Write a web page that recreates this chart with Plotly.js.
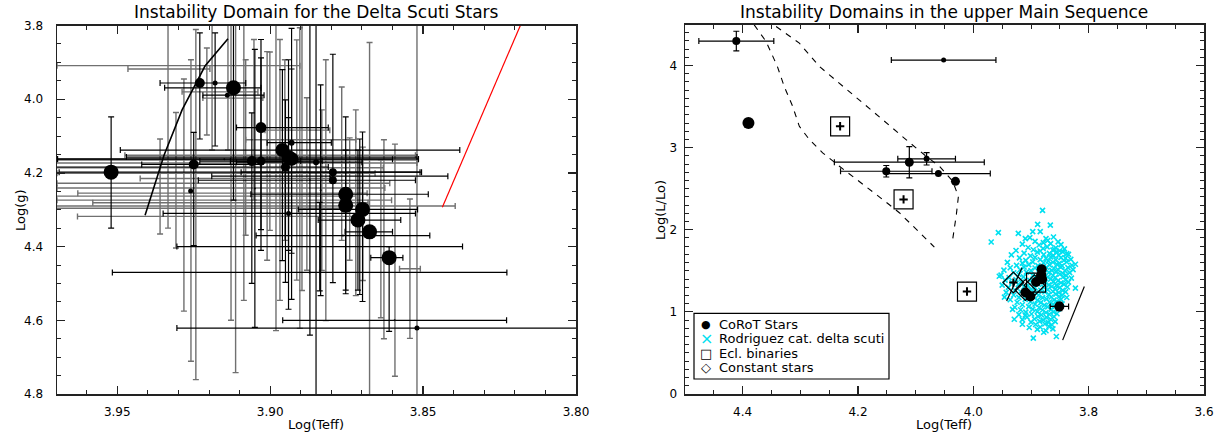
<!DOCTYPE html>
<html><head><meta charset="utf-8">
<script src="https://cdn.plot.ly/plotly-3.0.1.min.js"></script>
<style>html,body{margin:0;padding:0;background:#fff;} #chart{width:1222px;height:436px;}</style>
</head><body><div id="chart"></div>
<script>
const _ = NaN;
const F = 'DejaVu Sans';

// ---------- Left panel: Delta Scuti stars (black catalogue, dots) ----------
const dsX   = [3.952,3.923,3.918,3.912,3.914,3.903,3.925,3.926,3.906,3.903,3.896,3.894,3.893,3.895,3.893,3.885,3.8795,3.8795,3.8753,3.8753,3.8698,3.8713,3.8675,3.8611,3.852,3.894,3.8838,3.8871,3.8593,3.8762,3.8805,3.8707,3.905,3.887,3.8835,3.915];
const dsY   = [4.198,3.956,3.956,3.969,3.989,4.077,4.177,4.249,4.168,4.168,4.138,4.157,4.162,4.184,4.118,4.171,4.198,4.22,4.258,4.288,4.299,4.328,4.36,4.43,4.621,4.31,4.40,4.47,4.60,4.37,4.209,4.319,4.242,4.22,4.247,4.163];
const dsExP = [0.017,0.013,_,0.0225,0.008,0.008,0.017,_,0.017,0.010,0.053,0.053,0.0765,0.075,0.008,0.026,0.030,0.044,0.031,_,0.021,0.013,0.008,0.006,0.0785,0.041,0.0467,0.0645,0.0366,0.0284,0.0386,_,_,_,_,0.055];
const dsExM = [0.101,0.015,_,0.009,0.012,0.022,0.022,_,0.016,0.020,0.058,0.042,0.0415,0.014,0.013,0.015,0.029,0.027,0.027,_,0.018,0.014,0.0075,0.0045,0.0785,0.0415,0.0467,0.0645,0.0366,0.0284,0.0386,_,_,_,_,0.055];
const dsEyM = [0.150,0.136,0.136,0.212,_,0.239,0.087,_,0.131,0.28,0.218,0.264,0.354,0.182,0.2,0.44,0.32,_,0.21,0.15,0.21,0.19,_,0.03,_,0.26,0.12,_,_,_,_,0.211,0.377,0.42,0.286,_];
const dsEyP = [0.152,0.152,0.171,0.305,_,0.277,0.22,_,0.332,0.242,0.30,0.253,0.381,0.313,0.3,0.70,0.30,_,0.27,0.23,0.25,0.19,_,0.2,_,0.26,0.12,_,_,_,_,0.211,0.377,0.42,0.286,_];
const dsSize= [15,10,5,15,5,11,10,5,10,9,14,14,14,9,6,6,8,8,15,15,15,15,15,15,5,5,2,2,2,2,2,2,2,2,2,2];

// ---------- Left panel: second catalogue (grey error bars) ----------
const grX  = [3.9334,3.9243,3.9259,3.9128,3.9113,3.8675,3.852,3.8592,3.8628,3.8638,3.8543,3.9282,3.9207,3.9047,3.93,3.9331,3.9164,3.9122,3.8911,3.90,3.9107,3.9110,3.9153,3.9161,3.9156,3.915,3.9177,3.9115,3.89,3.9138,3.901,3.9001,3.8913,3.888,3.8831,3.8766,3.874,3.8697,3.8968,3.8952,3.908,3.9053,3.9308,3.936,3.8903,3.918,3.921,3.913,3.923,3.917,3.9086,3.8981,3.8896,3.919,3.8818,3.872];
const grY  = [4.04,4.286,4.302,4.192,4.236,4.36,4.621,4.437,4.38,4.379,4.46,4.26,3.979,4.29,3.909,3.918,3.98,3.997,4.084,4.152,4.165,4.173,4.228,4.241,4.255,4.274,4.201,4.215,4.11,3.961,4.154,4.114,4.165,4.23,4.247,4.175,4.271,4.311,4.192,4.138,4.131,4.056,4.22,4.237,4.214,4.186,4.263,4.281,4.296,4.318,4.125,4.179,4.152,3.961,4.247,4.281];
const grEx = [_,_,_,_,_,_,_,_,_,_,0.0034,_,_,0.0652,0.0397,0.0134,0.0124,0.0098,0.0106,0.0475,0.059,0.059,0.0544,0.0536,0.0473,0.0547,0.052,0.031,0.018,_,_,_,_,_,_,_,_,_,_,_,_,_,_,_,_,0.055,0.049,0.045,0.047,0.046,_,_,_,_,_,_];
const grEy = [0.31,0.475,0.409,0.408,0.506,0.514,0.85,0.315,0.27,0.214,0.189,0.315,0.118,_,_,_,_,_,_,_,_,_,_,_,_,_,_,_,_,0.177,0.283,0.242,0.326,0.234,0.218,0.208,0.166,0.181,0.354,0.245,0.238,0.218,0.184,0.129,0.408,_,_,_,_,_,0.421,0.449,0.367,0.177,0.354,0.252];

// boundary curves (left panel)
const blackEdgeX = [3.9409,3.9347,3.9288,3.9213,3.9138];
const blackEdgeY = [4.315,4.152,4.029,3.910,3.836];
const redEdgeX = [3.8437,3.8182];
const redEdgeY = [4.293,3.80];

// ---------- Right panel ----------
const corotX = [4.411,4.39,4.0515,4.151,4.111,4.081,4.0606,4.031,3.8815,3.8826,3.8808,3.8912,3.9098,3.9011,3.8508];
const corotY = [4.298,3.30,4.067,2.713,2.823,2.864,2.685,2.59,1.519,1.446,1.397,1.365,1.236,1.187,1.066];
const corotEx = [0.065,_,0.0907,0.0793,0.130,0.05,0.090,_,_,_,_,_,_,_,0.016];
const corotEy = [0.12,_,_,0.07,0.19,0.075,_,_,_,_,_,_,_,_,0.05];
const corotSize = [8,12,5,8,9,6,7,9,10,10,10,10,10,10,10];

const eclX = [4.231,4.121,4.011,3.8912];
const eclY = [3.26,2.37,1.248,1.357];
const constX = [3.9306,3.9098,3.894];
const constY = [1.357,1.267,1.324];

const stripAX = [4.38,4.3594,4.3398,4.328,4.3133,4.3017,4.2843,4.2613,4.2323,4.1976,4.1572,4.1283,4.0676];
const stripAY = [4.496,4.293,3.989,3.746,3.503,3.26,3.098,2.937,2.774,2.592,2.369,2.208,1.79];
const stripBX = [4.342,4.3017,4.267,4.2323,4.1976,4.1572,4.1167,4.082,4.0589,4.0358,4.0259,4.0294,4.0358];
const stripBY = [4.475,4.273,3.989,3.787,3.584,3.341,3.098,2.896,2.774,2.592,2.406,2.187,1.883];
const seg1X = [3.9422,3.9155], seg1Y = [1.134,1.539];
const seg2X = [3.8451,3.8075], seg2Y = [0.656,1.309];

const rodX = [
 3.880,3.8885,3.8665,3.9566,3.922,3.897,3.884,3.969,3.9098,3.8786,3.8595,3.835,3.823,3.823,3.955,3.946,3.932,3.929,3.910,3.915,3.903,3.896,3.874,3.856,
 3.902,3.874,3.861, 3.893,3.871,3.853, 3.915,3.886,3.866,3.848, 3.905,3.879,3.872,3.857,3.842,
 3.926,3.896,3.884,3.862,3.850, 3.912,3.889,3.868,3.856,3.845,3.838, 3.934,3.901,3.878,3.861,3.852,
 3.920,3.893,3.874,3.866,3.848,3.840, 3.909,3.884,3.870,3.857,3.843,3.831,
 3.941,3.915,3.897,3.878,3.862,3.851,3.838, 3.925,3.904,3.888,3.868,3.855,3.846,3.829,
 3.936,3.912,3.893,3.873,3.860,3.849,3.836, 3.947,3.919,3.900,3.876,3.864,3.853,3.841,3.827,
 3.930,3.908,3.886,3.869,3.857,3.845,3.833, 3.952,3.921,3.897,3.879,3.862,3.850,3.839,
 3.938,3.913,3.890,3.871,3.858,3.844,3.830, 3.945,3.926,3.902,3.884,3.866,3.853,3.840,
 3.933,3.917,3.895,3.875,3.861,3.848,3.835, 3.950,3.922,3.905,3.887,3.869,3.856,3.843,
 3.939,3.912,3.893,3.878,3.864,3.850,3.837, 3.928,3.900,3.883,3.871,3.858,3.845,
 3.943,3.918,3.891,3.876,3.862,3.852,3.840, 3.930,3.907,3.887,3.869,3.857,3.846,
 3.921,3.896,3.880,3.865,3.851,3.838, 3.936,3.910,3.889,3.873,3.860,3.848,
 3.924,3.901,3.883,3.868,3.855, 3.915,3.893,3.877,3.862,3.846, 3.928,3.904,3.886,3.871,3.858,
 3.918,3.897,3.880,3.865,3.852, 3.909,3.889,3.874,3.861, 3.921,3.899,3.882,3.868,3.855,
 3.907,3.888,3.873,3.860, 3.915,3.894,3.879,3.866, 3.900,3.885,3.870,3.858,
 3.892,3.876,3.864, 3.884,3.869, 3.889,3.862, 3.878];
const rodY = [
 2.236,2.066,2.057,1.965,1.956,1.977,1.977,1.851,1.892,1.843,1.762,1.70,1.58,1.29,1.434,1.18,1.03,0.91,0.96,0.85,0.81,0.68,0.77,0.70,
 1.905,1.893,1.912, 1.858,1.869,1.852, 1.826,1.814,1.831,1.819, 1.784,1.772,1.791,1.779,1.768,
 1.748,1.757,1.741,1.753,1.745, 1.716,1.727,1.712,1.724,1.731,1.709, 1.694,1.683,1.697,1.686,1.692,
 1.657,1.664,1.652,1.669,1.661,1.654, 1.628,1.636,1.621,1.633,1.626,1.639,
 1.603,1.594,1.609,1.598,1.605,1.592,1.607, 1.566,1.575,1.563,1.572,1.579,1.561,1.568,
 1.537,1.546,1.534,1.543,1.531,1.548,1.539, 1.508,1.513,1.502,1.516,1.505,1.511,1.499,1.514,
 1.476,1.484,1.473,1.481,1.488,1.471,1.479, 1.447,1.455,1.443,1.452,1.446,1.458,1.441,
 1.418,1.426,1.414,1.423,1.417,1.428,1.412, 1.386,1.394,1.383,1.391,1.397,1.381,1.389,
 1.357,1.364,1.352,1.361,1.368,1.355,1.362, 1.326,1.334,1.321,1.337,1.329,1.323,1.335,
 1.298,1.305,1.294,1.302,1.309,1.296,1.303, 1.266,1.274,1.263,1.271,1.278,1.262,
 1.237,1.245,1.233,1.242,1.248,1.236,1.244, 1.206,1.214,1.203,1.211,1.217,1.205,
 1.176,1.184,1.173,1.181,1.187,1.175, 1.148,1.153,1.144,1.156,1.147,1.152,
 1.117,1.124,1.113,1.121,1.126, 1.087,1.094,1.083,1.091,1.096, 1.057,1.064,1.053,1.061,1.066,
 1.026,1.034,1.023,1.031,1.037, 0.997,1.004,0.993,1.001, 0.966,0.974,0.963,0.971,0.977,
 0.937,0.944,0.933,0.941, 0.906,0.913,0.903,0.911, 0.876,0.884,0.873,0.881,
 0.847,0.853,0.843, 0.816,0.824, 0.787,0.793, 0.752];

const titles = ['Instability Domain for the Delta Scuti Stars','Instability Domains in the upper Main Sequence'];
const legendLabels = ['CoRoT Stars','Rodriguez cat. delta scuti','Ecl. binaries','Constant stars'];

// ---------- traces ----------
const traces = [
 {x:grX,y:grY,xaxis:'x',yaxis:'y',type:'scatter',mode:'markers',marker:{size:2,opacity:0},
  error_x:{type:'data',array:grEx,color:'#707070',thickness:1.4,width:3},
  error_y:{type:'data',array:grEy,color:'#707070',thickness:1.4,width:3},hoverinfo:'skip'},
 {x:dsX,y:dsY,xaxis:'x',yaxis:'y',type:'scatter',mode:'markers',marker:{size:dsSize,color:'#000',opacity:1,line:{width:0}},
  error_x:{type:'data',symmetric:false,array:dsExP,arrayminus:dsExM,color:'#000',thickness:1.2,width:3},
  error_y:{type:'data',symmetric:false,array:dsEyP,arrayminus:dsEyM,color:'#000',thickness:1.2,width:3}},
 {x:blackEdgeX,y:blackEdgeY,xaxis:'x',yaxis:'y',type:'scatter',mode:'lines',line:{color:'#000',width:1.6}},
 {x:redEdgeX,y:redEdgeY,xaxis:'x',yaxis:'y',type:'scatter',mode:'lines',line:{color:'#ff0000',width:1.2}},

 {x:stripAX,y:stripAY,xaxis:'x2',yaxis:'y2',type:'scatter',mode:'lines',line:{color:'#000',width:1.1,dash:'6px,6px'}},
 {x:stripBX,y:stripBY,xaxis:'x2',yaxis:'y2',type:'scatter',mode:'lines',line:{color:'#000',width:1.1,dash:'6px,6px'}},
 {x:rodX,y:rodY,xaxis:'x2',yaxis:'y2',type:'scatter',mode:'markers',marker:{symbol:'x-thin',size:5,opacity:1,line:{color:'#00e0f0',width:1.6}}},
 {x:seg1X,y:seg1Y,xaxis:'x2',yaxis:'y2',type:'scatter',mode:'lines',line:{color:'#000',width:1.2}},
 {x:seg2X,y:seg2Y,xaxis:'x2',yaxis:'y2',type:'scatter',mode:'lines',line:{color:'#000',width:1.2}},
 {x:eclX,y:eclY,xaxis:'x2',yaxis:'y2',type:'scatter',mode:'markers',marker:{symbol:'square-open',size:19,color:'#000',opacity:1,line:{width:1.2}}},
 {x:constX,y:constY,xaxis:'x2',yaxis:'y2',type:'scatter',mode:'markers',marker:{symbol:'diamond-open',size:16,color:'#000',opacity:1,line:{width:1.2}}},
 {x:corotX,y:corotY,xaxis:'x2',yaxis:'y2',type:'scatter',mode:'markers',marker:{size:corotSize,color:'#000',opacity:1,line:{width:0}},
  error_x:{type:'data',array:corotEx,color:'#000',thickness:1.2,width:3},
  error_y:{type:'data',array:corotEy,color:'#000',thickness:1.2,width:3}},
 {x:eclX.slice(0,3).concat(constX.slice(0,1)),y:eclY.slice(0,3).concat(constY.slice(0,1)),xaxis:'x2',yaxis:'y2',type:'scatter',mode:'markers',
  marker:{symbol:'cross-thin',size:6,opacity:1,line:{color:'#000',width:2}}}
];

function ax(extra){
  return Object.assign({showgrid:false,zeroline:false,showline:true,linecolor:'#222',linewidth:1.5,mirror:'ticks',
    ticks:'inside',ticklen:8,tickwidth:1.2,tickcolor:'#222',tickfont:{family:F,size:12,color:'#000'},fixedrange:true},extra);
}
const minorS = {ticks:'inside',ticklen:4,tickwidth:1,tickcolor:'#222'};
const yTop = 1-25.5/436, yBot = 1-394/436;

const px = v => v/1222, py = v => 1-v/436;
function ann(text,x,y,o){ return Object.assign({text:text,x:px(x),y:py(y),xref:'paper',yref:'paper',xanchor:'center',yanchor:'middle',showarrow:false,font:{family:F,size:13,color:'#000'}},o||{}); }
const annotations = [
  ann(titles[0],316,12,{font:{family:F,size:17,color:'#000'}}),
  ann(titles[1],944,12,{font:{family:F,size:17,color:'#000'}}),
  ann('Log(Teff)',316,424),
  ann('Log(Teff)',944,424),
  ann('Log(g)',20,210,{textangle:-90}),
  ann('Log(L/Lo)',660,210,{textangle:-90}),
  ann('●',706,324,{font:{family:F,size:11,color:'#000'}}),
  ann('×',706,338,{font:{family:F,size:16,color:'#00e0f0'}}),
  ann('□',706,353,{font:{family:F,size:13,color:'#000'}}),
  ann('◇',706,367.5,{font:{family:F,size:13,color:'#000'}})
];
legendLabels.forEach((t,i)=>annotations.push(ann(t,717,324+i*14.5,{xanchor:'left'})));

const layout = {
  width:1222,height:436,margin:{l:0,r:0,t:0,b:0},paper_bgcolor:'#fff',plot_bgcolor:'#fff',showlegend:false,
  xaxis:ax({domain:[57/1222,576/1222],range:[3.9697,3.80],tick0:3.8,dtick:0.05,tickformat:'.2f',anchor:'y',ticklabelstandoff:6,
    minor:Object.assign({tick0:3.8,dtick:0.01},minorS)}),
  yaxis:ax({domain:[yBot,yTop],range:[4.8,3.8],tick0:3.8,dtick:0.2,tickformat:'.1f',anchor:'x',ticklabelstandoff:10,
    minor:Object.assign({tick0:3.8,dtick:0.05},minorS)}),
  xaxis2:ax({domain:[685/1222,1204/1222],range:[4.5,3.6],tick0:3.6,dtick:0.2,tickformat:'.1f',anchor:'y2',ticklabelstandoff:6,
    minor:Object.assign({tick0:3.6,dtick:0.05},minorS)}),
  yaxis2:ax({domain:[yBot,1-24.5/436],range:[0,4.5],tick0:0,dtick:1,tickformat:'d',anchor:'x2',ticklabelstandoff:4,
    minor:Object.assign({tick0:0,dtick:0.1},minorS)}),
  shapes:[{type:'rect',xref:'paper',yref:'paper',x0:px(694),x1:px(889),y0:py(379),y1:py(313.3),line:{color:'#000',width:1.2},fillcolor:'rgba(255,255,255,0)',layer:'above'}],
  annotations:annotations
};
Plotly.newPlot('chart',traces,layout,{staticPlot:true,displayModeBar:false});
</script></body></html>
